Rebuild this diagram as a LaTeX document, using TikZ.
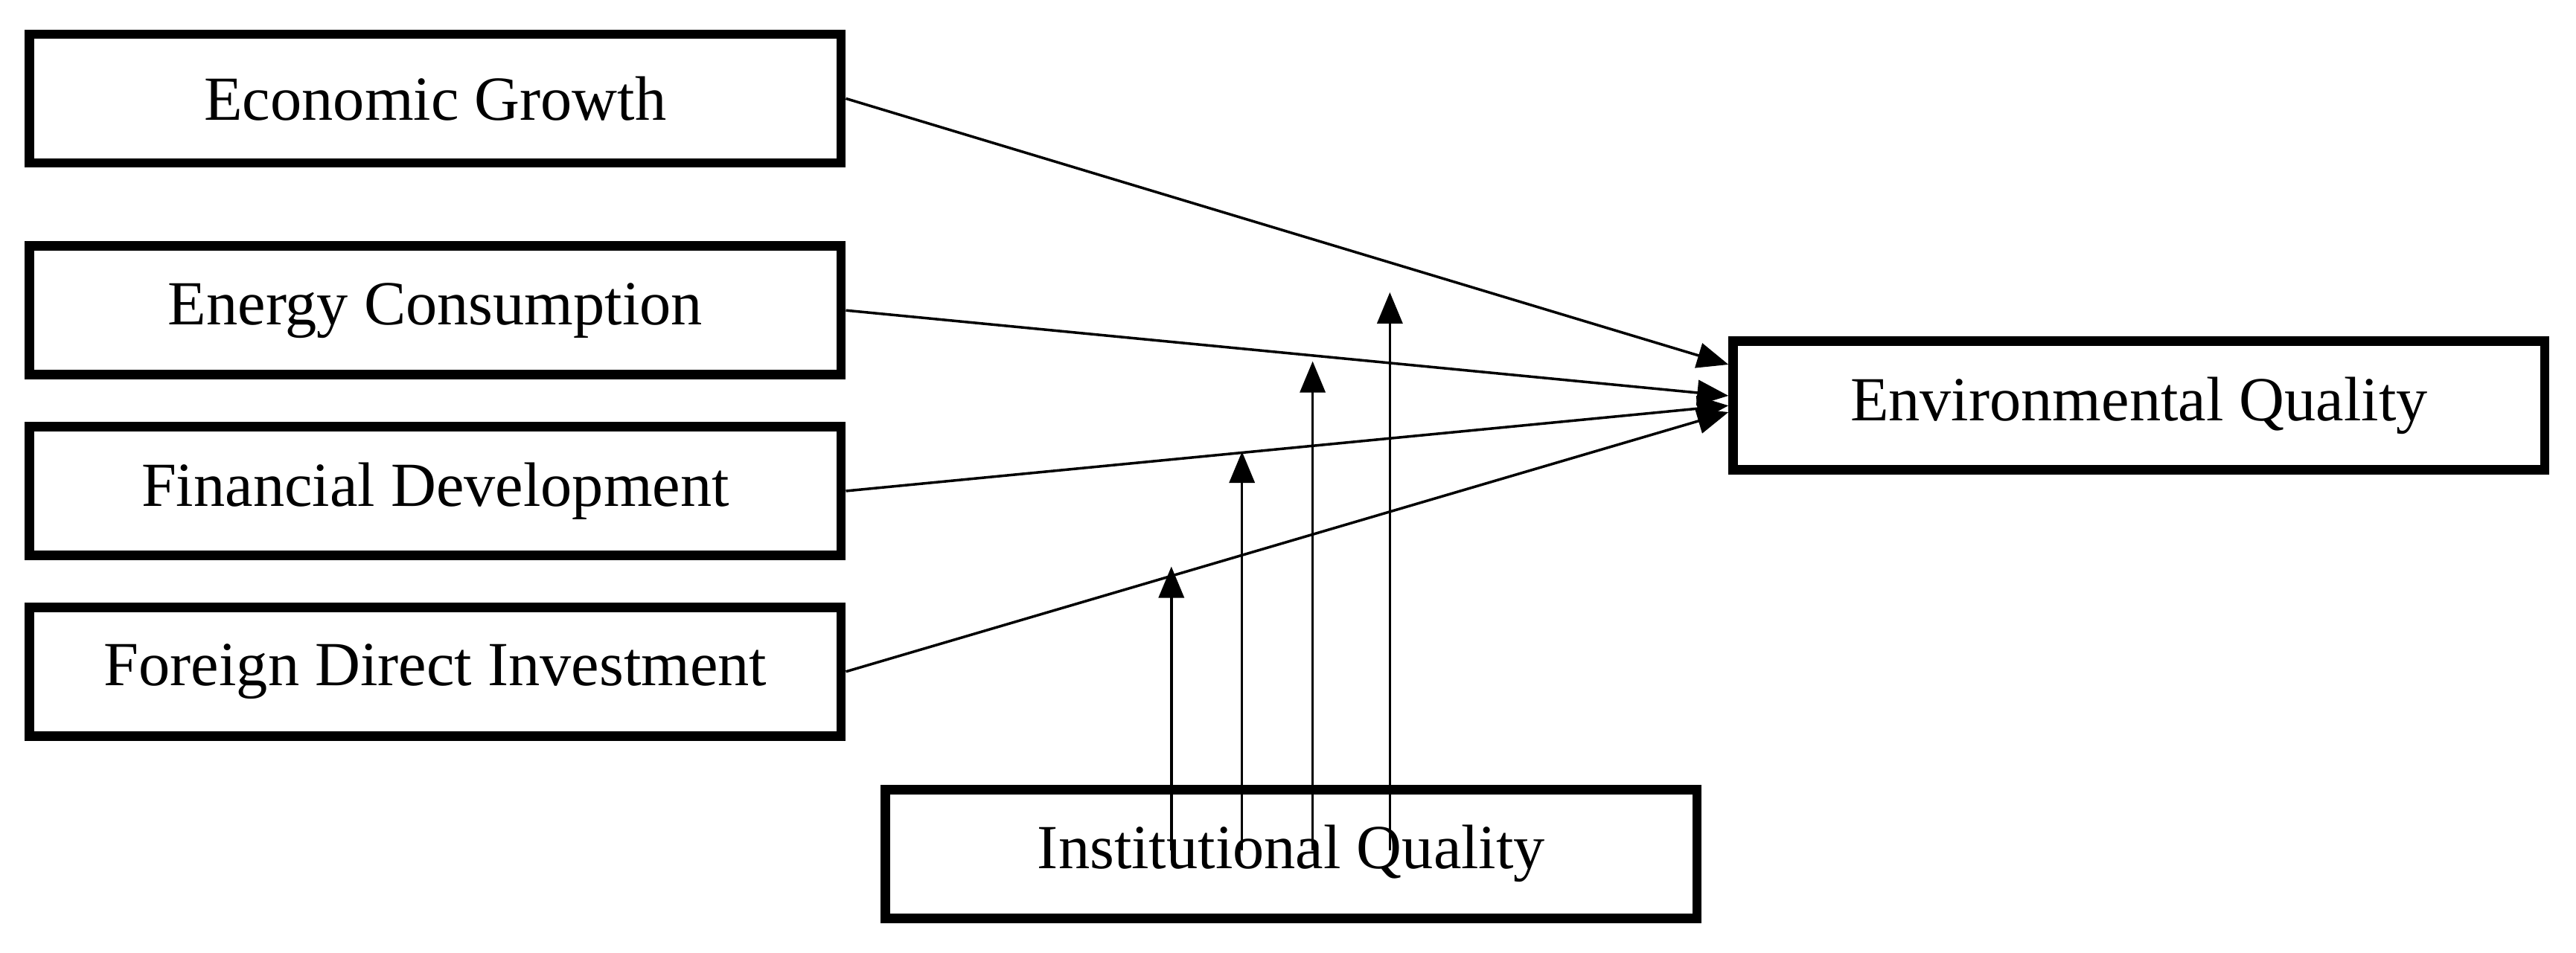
\documentclass[tikz,border=0pt]{standalone}
\usepackage{fontspec}
\setmainfont{Liberation Serif}
\usetikzlibrary{arrows.meta,calc,positioning}

\begin{document}
\begin{tikzpicture}[x=0.02207cm,y=-0.02207cm,
                    box/.style={draw,line width=3.6pt,minimum width=10.9cm,minimum height=1.73cm,
                                font=\fontsize{24}{28}\selectfont},
                    link/.style={line width=1pt,-{Triangle[length=0.42cm,width=0.34cm]}}]

 \useasboundingbox (0,0) rectangle (1568,580);

 \node[box] (growth) at (265,60) {Economic Growth};
 \node[box] (energy) at (265,189) {Energy Consumption};
 \node[box] (finance) at (265,299) {Financial Development};
 \node[box] (fdi) at (265,409) {Foreign Direct Investment};
 \node[box] (env) at (1302,247) {Environmental Quality};
 \node[box] (inst) at (786,520) {Institutional Quality};

 % end points on the outcome box
 \coordinate (e1) at ($(env.west)+(0,-25)$);
 \coordinate (e2) at ($(env.west)+(0,-6)$);
 \coordinate (e3) at ($(env.west)+(0,0)$);
 \coordinate (e4) at ($(env.west)+(0,4)$);

 \draw[link] ($(growth.east)+(0,0)$) -- (e1);
 \draw[link] (energy.east) -- (e2);
 \draw[link] (finance.east) -- (e3);
 \draw[link] (fdi.east) -- (e4);

 % moderating arrows
 \coordinate (m1) at (713,345);
 \coordinate (m2) at (756,275);
 \coordinate (m3) at (799,220);
 \coordinate (m4) at (846,178);
 \coordinate (s1) at (713,518);
 \coordinate (s2) at (756,518);
 \coordinate (s3) at (799,518);
 \coordinate (s4) at (846,518);

 \foreach \i in {1,2,3,4}
   \draw[link] (s\i) -- (m\i);

\end{tikzpicture}
\end{document}
